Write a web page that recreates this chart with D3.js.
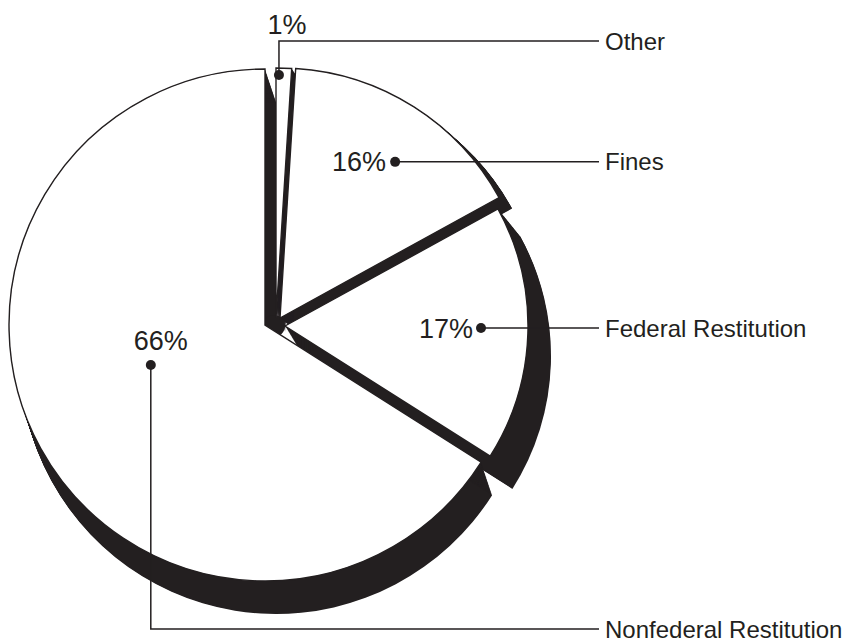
<!DOCTYPE html>
<html><head><meta charset="utf-8">
<script src="https://cdn.jsdelivr.net/npm/d3@7"></script>
<style>body{margin:0;background:#fff} svg{display:block}</style>
</head><body><svg id="c" width="855" height="641"></svg>
<script>
// ---- data ----
const categories = ["Other", "Fines", "Federal Restitution", "Nonfederal Restitution"];
const values = [1, 16, 17, 66];
const pctLabels = ["1%", "16%", "17%", "66%"];

// ---- style / layout ----
const ink = "#231f20";
const hub = {x: 265, y: 325};
// per-slice: apex offset from hub, radius, shadow sweep (sx,sy,dr), label dot placement
const apexOff = [[11, -7], [15, -7], [20, 1], [0, 0]];
const radii = [250, 250, 243, 256];
const shadow = [[9, 14, 0], [13, 11, 0], [18, 30, 5], [11, 33, 0]];
const dotAngOff = [-1.1, 4, -1.2, 9.5];
const dotRad = [243, 194, 196, 121];
const leaderY = [41, null, null, 629];
const pctPos = [["middle", 8, -48], ["end", -9, 9], ["end", -8, 10], ["middle", 10, -15]];

const svg = d3.select("#c");
const pie = d3.pie().sort(null).value(d => d)(values);
const arc = d3.arc().innerRadius(0);

const gShadow = svg.append("g");
const gWhite = svg.append("g");
const gAnn = svg.append("g");

pie.forEach((p, i) => {
  const ax = hub.x + apexOff[i][0], ay = hub.y + apexOff[i][1];
  const [sx, sy, dr] = shadow[i];
  const N = 40;
  for (let k = 0; k <= N; k++) {
    const t = k / N;
    gShadow.append("path")
      .attr("transform", `translate(${ax + t * sx},${ay + t * sy})`)
      .attr("d", arc.outerRadius(radii[i] + t * dr)({startAngle: p.startAngle, endAngle: p.endAngle}))
      .attr("fill", ink);
  }
});
// hub joining the inner bands
gShadow.append("circle").attr("cx", hub.x + 9).attr("cy", hub.y + 1).attr("r", 11).attr("fill", ink);

pie.forEach((p, i) => {
  const ax = hub.x + apexOff[i][0], ay = hub.y + apexOff[i][1];
  gWhite.append("path")
    .attr("transform", `translate(${ax},${ay})`)
    .attr("d", arc.outerRadius(radii[i])({startAngle: p.startAngle, endAngle: p.endAngle}))
    .attr("fill", "#fff").attr("stroke", ink).attr("stroke-width", 1.4)
    .attr("stroke-linejoin", "miter");
});

pie.forEach((p, i) => {
  const ax = hub.x + apexOff[i][0], ay = hub.y + apexOff[i][1];
  const a = (p.startAngle + p.endAngle) / 2 + dotAngOff[i] * Math.PI / 180;
  const dx = ax + dotRad[i] * Math.sin(a), dy = ay - dotRad[i] * Math.cos(a);
  const ly = leaderY[i] == null ? dy : leaderY[i];
  gAnn.append("path")
    .attr("d", `M${dx},${dy}L${dx},${ly}L599,${ly}`)
    .attr("fill", "none").attr("stroke", ink).attr("stroke-width", 1.5);
  gAnn.append("circle").attr("cx", dx).attr("cy", dy).attr("r", 5).attr("fill", ink);
  gAnn.append("text").attr("x", 605).attr("y", ly + 8.5)
    .attr("font-family", "Liberation Sans, Arial, sans-serif").attr("font-size", 24)
    .attr("fill", ink).text(categories[i]);
  const [anc, ox, oy] = pctPos[i];
  gAnn.append("text").attr("x", dx + ox).attr("y", (i === 0 ? ly : dy) + (i === 0 ? -7 : oy))
    .attr("text-anchor", anc)
    .attr("font-family", "Liberation Sans, Arial, sans-serif").attr("font-size", 27)
    .attr("fill", ink).text(pctLabels[i]);
});
</script></body></html>
